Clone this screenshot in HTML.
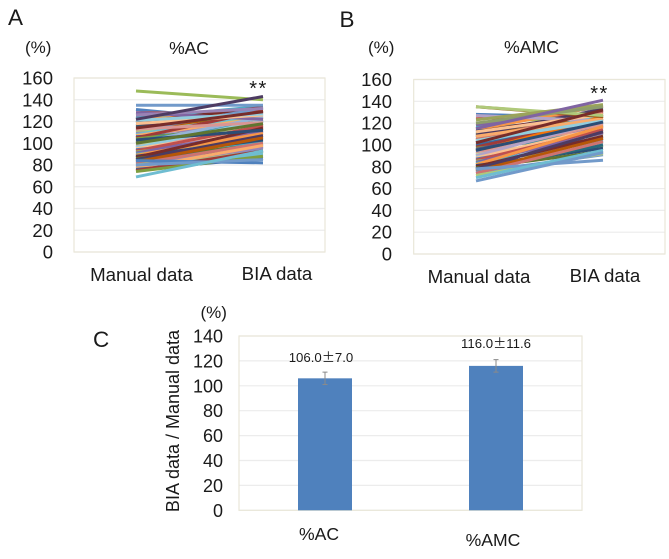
<!DOCTYPE html>
<html>
<head>
<meta charset="utf-8">
<title>BIA vs manual data</title>
<style>
html,body{margin:0;padding:0;background:#fff;width:669px;height:559px;overflow:hidden}
svg{display:block;font-family:"Liberation Sans","Noto Sans CJK JP",sans-serif;fill:#1a1a1a}
</style>
</head>
<body>
<svg id="figure" width="669" height="559" viewBox="0 0 669 559" xmlns="http://www.w3.org/2000/svg">
  <text x="8" y="25" font-size="22.5">A</text>
  <text x="25" y="53" font-size="17">(%)</text>
  <text x="189" y="54" font-size="17.5" text-anchor="middle">%AC</text>
  <text x="339.5" y="27" font-size="22.5">B</text>
  <text x="368" y="53" font-size="17">(%)</text>
  <text x="531.5" y="53" font-size="17.7" text-anchor="middle">%AMC</text>
  <text x="93" y="347" font-size="22.5">C</text>
  <text x="200.5" y="318" font-size="17">(%)</text>
  <text transform="translate(179,421) rotate(-90)" font-size="18" text-anchor="middle">BIA data / Manual data</text>
  <g id="chart-a"></g>
  <g id="chart-b"></g>
  <g id="chart-c"></g>
  <text x="258.5" y="95" font-size="20" text-anchor="middle" letter-spacing="1.5">**</text>
  <text x="599.5" y="100" font-size="20" text-anchor="middle" letter-spacing="1.5">**</text>
</svg>
<script>
var lineCategories = ['Manual data', 'BIA data'];
var lineTicks = [0, 20, 40, 60, 80, 100, 120, 140, 160];
var acManual = [131,128,126,124,123,122,120,119,118,116,115,113,112,111,110,109,108,107,106,105,104,103,102,101,100,99,98,97,96,95,94,93,92,91,90,89,88,87,86,85,84,83,82,81,80,79,78,77,76,75,74,84,80,128,126,118,121,113,103,100,135,69,148,114,122];
var acBia = [120,127,131,119,134,128,126,133,122,129,121,124,132,118,125,116,127,123,113,130,117,112,120,115,124,110,118,108,121,113,106,116,104,111,101,109,103,114,99,107,97,105,94,100,92,96,90,98,86,93,88,82,85,122,132,126,127,119,112,118,135,93,140,129,143];
var amcManual = [128,124,120,118,116,114,113,112,110,109,108,107,106,105,104,103,102,101,100,98,97,96,95,94,93,92,91,90,89,88,87,86,85,84,83,82,81,80,79,78,77,76,75,74,72,127,112,108,104,95,135,135,123,120,115,78,70,67,102];
var amcBia = [125,129,127,135,122,136,118,130,126,133,120,128,116,131,123,115,127,112,121,124,109,118,113,126,105,119,110,122,102,116,107,114,99,111,104,117,97,108,94,112,100,106,91,103,92,122,128,124,122,121,126,127,137,135,141,86,95,93,132];
var barCategories = ['%AC', '%AMC'];
var barValues = [106.0, 116.0];
var barErrors = [5, 5];
var barLabels = ['106.0±7.0', '116.0±11.6'];
var barTicks = [0, 20, 40, 60, 80, 100, 120, 140];

var palette = ['#4F81BD','#C0504D','#9BBB59','#8064A2','#4BACC6','#F79646','#2C4D75','#772C2A','#5F7530','#4D3B62','#276A7C','#B65708','#729ACA','#CD7371','#AFC97A','#9983B5','#6FBDD1','#F9AB6B','#3A679C','#9F3B38','#7E9D40','#664F83','#358EA6','#F3740B','#95B3D7','#D99694','#C3D69B','#B3A2C7','#93CDDD','#FAC090'];
var acAccent = ['#4F81BD','#729ACA','#8064A2','#9983B5','#FAC090','#93CDDD','#D99694','#2C4D75','#5F7530','#729ACA','#6FBDD1','#9BBB59','#772C2A','#4D3B62'];
var amcAccent = ['#B3A2C7','#FAC090','#F9AB6B','#93CDDD','#2C4D75','#9C5A1E','#AFC97A','#9BA35A','#8E9E6B','#8064A2','#729ACA','#6FBDD1','#729ACA','#772C2A'];

var NS = 'http://www.w3.org/2000/svg';
function make(parent, tag, attrs, text) {
  var el = document.createElementNS(NS, tag);
  for (var k in attrs) el.setAttribute(k, attrs[k]);
  if (text !== undefined) el.textContent = text;
  parent.appendChild(el);
  return el;
}
function linear(d0, d1, r0, r1) {
  return function (v) { return r0 + (v - d0) * (r1 - r0) / (d1 - d0); };
}

function drawFrame(g, box, ticks, y, tickX, tickSize) {
  ticks.forEach(function (t) {
    var grid = make(g, 'line', {x1: box.left, x2: box.right, y1: y(t), y2: y(t), stroke: '#ececec', 'stroke-width': 1.2});
    
    
    var label = make(g, 'text', {x: tickX, y: y(t) + 6.5, 'font-size': tickSize, 'text-anchor': 'end'}, String(t));
    
    
  });
  var frame = make(g, 'rect', {x: box.left, y: box.top, width: box.right - box.left, height: box.bottom - box.top, fill: 'none', stroke: '#e9e7d9', 'stroke-width': 1.2});
  
  
}

function drawLineChart(g, box, manual, bia, accent, opts) {
  var y = linear(0, 160, box.bottom, box.top);
  var x = linear(0, 1, opts.x0, opts.x1);
  drawFrame(g, box, lineTicks, y, opts.tickX, 18.5);
  var plain = manual.length - accent.length;
  manual.forEach(function (m, i) {
    var color = i < plain ? palette[i % palette.length] : accent[i - plain];
    var ln = make(g, 'line', {x1: x(0), y1: y(m), x2: x(1), y2: y(bia[i]), stroke: color, 'stroke-width': 3});
    
    
  });
  lineCategories.forEach(function (c, i) {
    var lab = make(g, 'text', {x: opts.labelX[i], y: opts.labelY[i], 'font-size': 18.7, 'text-anchor': 'middle'}, c);
    
    
  });
}

function drawBarChart(g, box) {
  var y = linear(0, 140, box.bottom, box.top);
  var centers = [325, 496];
  var labelPos = [[321, 362], [496, 348]];
  var catPos = [[319, 540], [493, 546]];
  drawFrame(g, box, barTicks, y, 223, 18);
  barValues.forEach(function (v, i) {
    var cx = centers[i];
    var bar = make(g, 'rect', {x: cx - 27, y: y(v), width: 54, height: y(0) - y(v), fill: '#4F81BD'});
    
    
    var err = make(g, 'path', {
      d: 'M' + (cx - 2.5) + ' ' + y(v + barErrors[i]) + 'H' + (cx + 2.5) + 'M' + cx + ' ' + y(v + barErrors[i]) + 'V' + y(v - barErrors[i]) + 'M' + (cx - 2.5) + ' ' + y(v - barErrors[i]) + 'H' + (cx + 2.5),
      stroke: '#8a8a8a', 'stroke-width': 1, fill: 'none'});
    
    
    var val = make(g, 'text', {x: labelPos[i][0], y: labelPos[i][1], 'font-size': 13.2, 'text-anchor': 'middle'});
    
    
    var parts = barLabels[i].split('±');
    make(val, 'tspan', {}, parts[0]);
    make(val, 'tspan', {'font-family': '"Noto Sans CJK JP", sans-serif'}, '±');
    make(val, 'tspan', {}, parts[1]);
    var cat = make(g, 'text', {x: catPos[i][0], y: catPos[i][1], 'font-size': 17.6, 'text-anchor': 'middle'}, barCategories[i]);
    
    
  });
}

drawLineChart(document.getElementById('chart-a'), {left: 74, right: 325, top: 78, bottom: 252}, acManual, acBia, acAccent, {x0: 136, x1: 263, tickX: 53, labelX: [141.5, 277], labelY: [281, 280]});
drawLineChart(document.getElementById('chart-b'), {left: 413.7, right: 665, top: 79.5, bottom: 254}, amcManual, amcBia, amcAccent, {x0: 476, x1: 603, tickX: 392, labelX: [479, 605], labelY: [283, 282]});
drawBarChart(document.getElementById('chart-c'), {left: 239, right: 582, top: 336, bottom: 510.3});
</script>
</body>
</html>
